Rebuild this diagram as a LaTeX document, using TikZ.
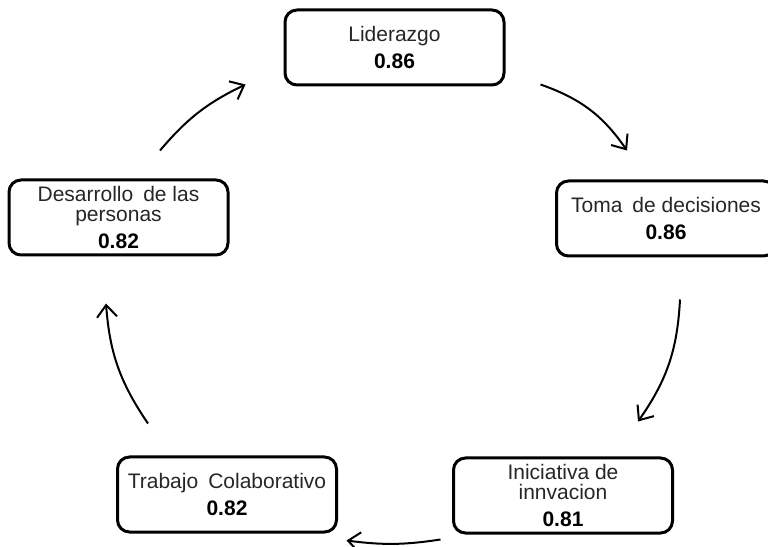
\documentclass[tikz,border=0pt]{standalone}
\usepackage{fontspec}
\setmainfont{Liberation Sans}
\usetikzlibrary{arrows.meta}
\tikzset{
  caja/.style={draw, line width=3pt, rounded corners=12pt, minimum width=219pt,
    minimum height=75pt, align=center, text=black!85, font=\fontsize{21}{20}\selectfont},
  flecha/.style={line width=2pt, -{Straight Barb[length=12pt,width=20pt]}}
}
\newcommand{\valor}[1]{\textcolor{black}{\textbf{#1}}}
\newcommand{\esp}{\hspace{0.2em}}
\begin{document}
\begin{tikzpicture}[x=1pt,y=1pt]
    \useasboundingbox (0,0) rectangle (768,546);
    \node[caja] (L) at (394.5, 498.5) {Liderazgo\\[7pt]\valor{0.86}};
    \node[caja] (T) at (666, 327.5) {Toma \esp de decisiones\\[7pt]\valor{0.86}};
    \node[caja] (D) at (118.5, 328.5) {Desarrollo \esp de las\\personas\\[7pt]\valor{0.82}};
    \node[caja] (TC) at (227, 51.5) {Trabajo \esp Colaborativo\\[7pt]\valor{0.82}};
    \node[caja] (I) at (563, 50.5) {Iniciativa de\\innvacion\\[7pt]\valor{0.81}};
    \path [flecha] ([shift={(35,2)}]L.south east) edge[bend left=18] ([shift={(-39,29)}]T.north);
    \path [flecha] ([shift={(14,-42)}]T.south) edge[bend left=16] ([shift={(75,35)}]I.north);
    \path [flecha] ([shift={(-11.5,-5)}]I.south west) edge[bend left=8] ([shift={(8.5,-7)}]TC.south east);
    \path [flecha] ([shift={(-79,32)}]TC.north) edge[bend left=15] ([shift={(-12.5,-47)}]D.south);
    \path [flecha] ([shift={(41.5,28)}]D.north) edge[bend left=12] ([shift={(-38,2)}]L.south west);
\end{tikzpicture}
\end{document}
